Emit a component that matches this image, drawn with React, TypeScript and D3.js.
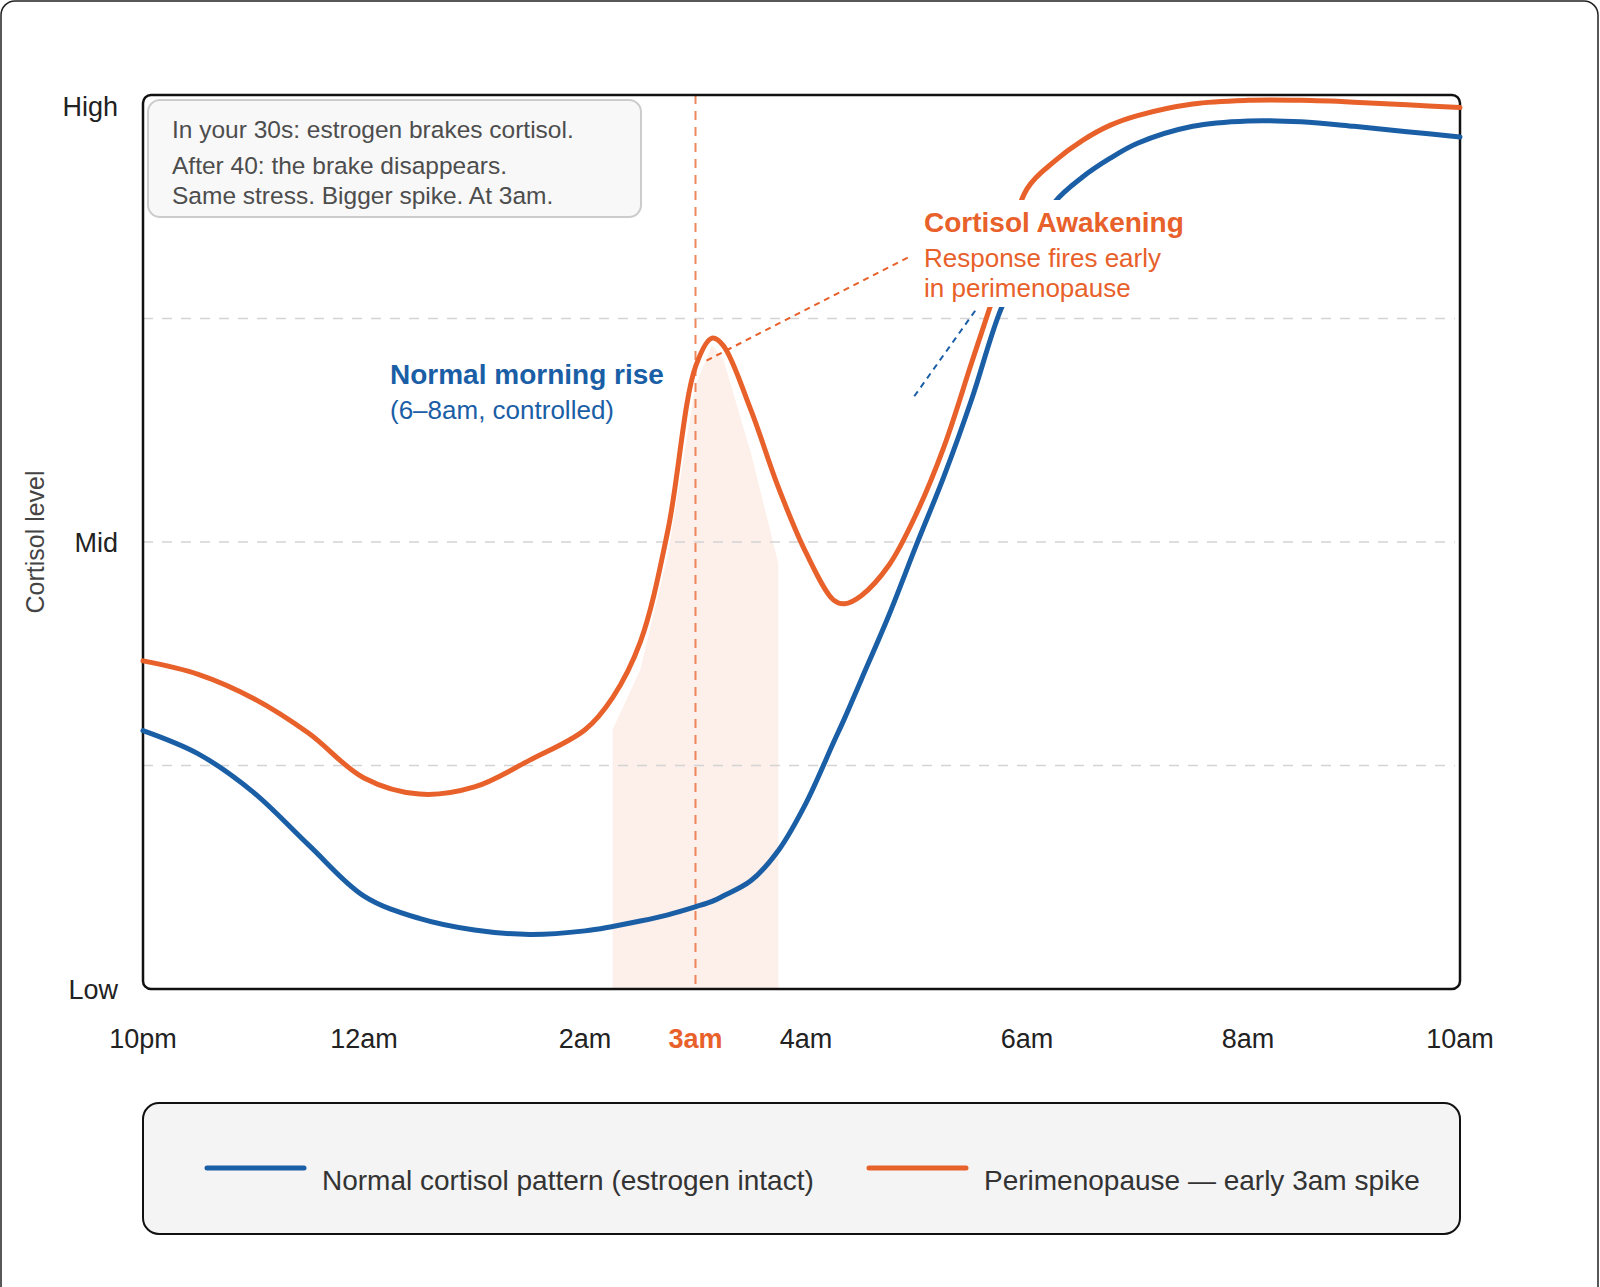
import React from "react";
import * as d3 from "d3";

// hours after 10pm
const hours = [0, 0.5, 1, 1.5, 2, 2.5, 3, 3.5, 4, 4.25, 4.5, 4.75, 5, 5.15, 5.25, 5.5, 5.75, 6, 6.25, 6.35, 6.5, 6.75, 7, 7.25, 7.5, 7.75, 8, 8.25, 8.5, 8.75, 9, 9.5, 10, 10.5, 11, 11.5, 12];
const normalLevels = [28.9, 26.3, 22.0, 16.1, 10.4, 7.9, 6.6, 6.1, 6.5, 7.0, 7.6, 8.3, 9.2, 9.8, 10.4, 12.1, 15.5, 20.8, 27.6, 30.3, 34.6, 41.8, 49.7, 57.4, 66.0, 75.6, 82.5, 88.0, 90.8, 92.9, 94.6, 96.5, 97.1, 97.0, 96.5, 95.9, 95.3];
const periLevels = [36.7, 35.2, 32.5, 28.6, 23.6, 21.8, 22.6, 25.6, 29.0, 32.6, 38.8, 51.3, 69.6, 72.8, 72.0, 64.8, 56.1, 48.8, 43.5, 43.1, 44.0, 47.4, 53.2, 60.7, 70.1, 79.5, 89.5, 92.6, 94.9, 96.6, 97.7, 99.0, 99.4, 99.4, 99.2, 98.9, 98.6];

// shaded 3am window
const spikeHours = [4.25, 4.5, 4.75, 5.0, 5.15, 5.25, 5.5, 5.75];
const spikeLevels = [29.0, 35.7, 48.5, 67.5, 72.0, 70.5, 60.0, 47.6];

const tickHours = [0, 2, 4, 5, 6, 8, 10, 12];
const tickLabels = ["10pm", "12am", "2am", "3am", "4am", "6am", "8am", "10am"];
const levelValues = [0, 50, 100];
const levelLabels = ["Low", "Mid", "High"];
const gridValues = [25, 50, 75];

const noteLines = [
  "In your 30s: estrogen brakes cortisol.",
  "After 40: the brake disappears.",
  "Same stress. Bigger spike. At 3am.",
];
const legendLabels = ["Normal cortisol pattern (estrogen intact)", "Perimenopause \u2014 early 3am spike"];

const BLUE = "#1a5ea6";
const ORANGE = "#e8602a";
const FONT = "'Liberation Sans', Arial, sans-serif";

export default function App() {
  const x = d3.scaleLinear().domain([0, 10, 12]).range([143, 1248, 1460]);
  const y = d3.scaleLinear().domain([0, 100]).range([989, 95]);
  const left = x(0), right = x(12), top = y(100), bottom = y(0);

  const line = (vals: number[]) =>
    d3
      .line<number>()
      .x((_, i) => x(hours[i]))
      .y((d) => y(d))
      .curve(d3.curveCatmullRom.alpha(0.5))(vals) as string;

  const spikeArea = d3
    .area<number>()
    .x((_, i) => x(spikeHours[i]))
    .y0(bottom)
    .y1((d) => y(d))(spikeLevels) as string;

  const colors = [BLUE, ORANGE];
  const legendX = [207, 869];

  return (
    <svg width={1600} height={1287} style={{ position: "absolute", left: 0, top: 0, display: "block" }} fontFamily={FONT}>
      <rect x={0} y={0} width={1600} height={1287} fill="#fff" />
      <rect x={1} y={1} width={1597} height={1320} rx={14} fill="#fff" stroke="#222" strokeWidth={1.5} />

      {/* shaded window */}
      <path d={spikeArea} fill={ORANGE} fillOpacity={0.1} />

      {/* grid */}
      {gridValues.map((v) => (
        <line key={v} x1={left} x2={right - 5} y1={y(v)} y2={y(v)} stroke="#d4d4d4" strokeWidth={1.5} strokeDasharray="10,9" />
      ))}

      {/* 3am marker */}
      <line x1={x(5)} x2={x(5)} y1={top} y2={bottom} stroke={ORANGE} strokeOpacity={0.75} strokeWidth={2} strokeDasharray="9,7" />

      {/* frame */}
      <rect x={left} y={top} width={right - left} height={bottom - top} rx={8} fill="none" stroke="#111" strokeWidth={2.5} />

      {/* series */}
      <path d={line(normalLevels)} fill="none" stroke={BLUE} strokeWidth={5} strokeLinecap="round" />
      <path d={line(periLevels)} fill="none" stroke={ORANGE} strokeWidth={5} strokeLinecap="round" />

      {/* leaders */}
      <line x1={x(5.1)} y1={y(70.3)} x2={x(6.95)} y2={y(82)} stroke={ORANGE} strokeWidth={2} strokeDasharray="6,5" />
      <line x1={x(6.98)} y1={y(66.3)} x2={x(7.55)} y2={y(76.2)} stroke={BLUE} strokeWidth={2} strokeDasharray="6,5" />

      {/* note box */}
      <rect x={148} y={100} width={493} height={117} rx={12} fill="#f8f8f8" stroke="#cccccc" strokeWidth={2} />
      {noteLines.map((t, i) => (
        <text key={t} x={172} y={[138, 174, 204][i]} fontSize={24.5} fill="#4d4d4d">
          {t}
        </text>
      ))}

      {/* annotations */}
      <text x={390} y={384} fontSize={28} fontWeight="bold" fill={BLUE}>
        Normal morning rise
      </text>
      <text x={390} y={419} fontSize={26} fill={BLUE}>
        (6–8am, controlled)
      </text>

      <rect x={918} y={200} width={262} height={107} fill="#fff" />
      <text x={924} y={232} fontSize={28} fontWeight="bold" fill={ORANGE}>
        Cortisol Awakening
      </text>
      <text x={924} y={266.5} fontSize={26} fill={ORANGE}>
        Response fires early
      </text>
      <text x={924} y={296.5} fontSize={26} fill={ORANGE}>
        in perimenopause
      </text>

      {/* y labels */}
      {levelValues.map((v, i) => (
        <text key={v} x={118} y={Math.max(y(v), top + 11) + 10} fontSize={27} textAnchor="end" fill="#222">
          {levelLabels[i]}
        </text>
      ))}
      <text transform={`translate(44, ${(top + bottom) / 2}) rotate(-90)`} fontSize={25} textAnchor="middle" fill="#444">
        Cortisol level
      </text>

      {/* x labels */}
      {tickHours.map((h, i) => (
        <text
          key={h}
          x={x(h)}
          y={1048}
          fontSize={27}
          textAnchor="middle"
          fill={h === 5 ? ORANGE : "#222"}
          fontWeight={h === 5 ? "bold" : "normal"}
        >
          {tickLabels[i]}
        </text>
      ))}

      {/* legend */}
      <rect x={left} y={1103} width={right - left} height={131} rx={16} fill="#f4f4f4" stroke="#111" strokeWidth={2} />
      {legendLabels.map((t, i) => (
        <g key={t}>
          <line x1={legendX[i]} x2={legendX[i] + 97} y1={1168} y2={1168} stroke={colors[i]} strokeWidth={5} strokeLinecap="round" />
          <text x={legendX[i] + 115} y={1190} fontSize={28} fill="#333">
            {t}
          </text>
        </g>
      ))}
    </svg>
  );
}
